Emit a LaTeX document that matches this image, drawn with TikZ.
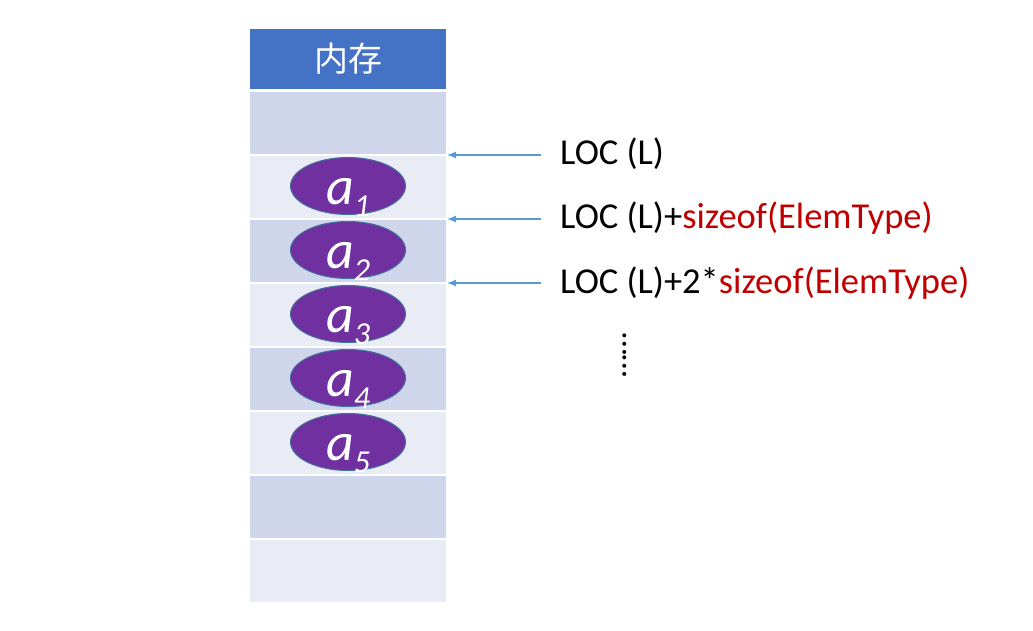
\documentclass[tikz,border=0pt]{standalone}
\usepackage{fontspec}
\setmainfont{Carlito}
\newfontfamily\cjk{Noto Sans CJK SC}
\usetikzlibrary{shapes.geometric,arrows.meta,positioning}
\definecolor{head-blue}{HTML}{4472C4}
\definecolor{cell-dark}{HTML}{CFD5EA}
\definecolor{cell-light}{HTML}{E9EBF5}
\definecolor{elem-purple}{HTML}{7030A0}
\definecolor{elem-border}{HTML}{41719C}
\definecolor{arrow-blue}{HTML}{5B9BD5}
\definecolor{loc-red}{HTML}{C00000}
\tikzset{
    mem-cell/.style = {draw=white, line width=2pt, rectangle, minimum width=198pt, minimum height=64pt, inner sep=0pt, outer sep=0pt},
    mem-head/.style = {mem-cell, fill=head-blue, minimum height=62pt, text=white, font=\cjk\fontsize{34}{34}\selectfont},
    elem/.style = {ellipse, draw=elem-border, fill=elem-purple, line width=1pt, minimum width=115pt, minimum height=57pt, inner sep=0pt, text=white, font=\itshape\fontsize{54}{54}\selectfont, text height=37pt, text depth=0pt},
    loc-arrow/.style = {draw=arrow-blue, line width=1.2pt, -{Latex[length=9pt,width=7pt]}},
    loc-label/.style = {font=\fontsize{36.5}{36.5}\selectfont, inner sep=0pt, text height=20pt, text depth=0pt},
}

\begin{document}
\begin{tikzpicture}[x=1pt, y=-1pt]
\useasboundingbox (0,0) rectangle (1033,631);
\node[mem-head] (head) at (348,59) {内存};
\foreach \i/\c in {1/dark,2/light,3/dark,4/light,5/dark,6/light,7/dark,8/light}
    \node[mem-cell, fill=cell-\c] (c\i) at (348,{123+64*(\i-1)}) {};
\foreach \i/\r in {1/2,2/3,3/4,4/5,5/6}
    \node[elem] (a\i) at ([yshift=1pt]c\r) {a\raisebox{-12pt}{\fontsize{32}{32}\selectfont\i}};
\node[loc-label, right=113pt of c1.south east] (loc1) {LOC (L)};
\node[loc-label, right=113pt of c2.south east] (loc2) {LOC (L)+\textcolor{loc-red}{sizeof(ElemType)}};
\node[loc-label, right=113pt of c3.south east] (loc3) {LOC (L)+2*\textcolor{loc-red}{sizeof(ElemType)}};
\foreach \i in {1,2,3}
    \draw[loc-arrow] ([xshift=-19pt]loc\i.west) -- (c\i.south east);
\node[font=\fontsize{33}{33}\selectfont, inner sep=0pt, text height=3pt, text depth=0pt, rotate=90] (dots) at (625,355) {……};
\end{tikzpicture}
\end{document}
